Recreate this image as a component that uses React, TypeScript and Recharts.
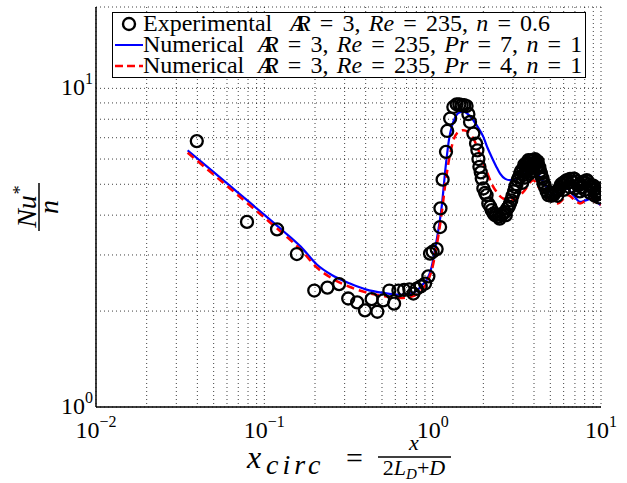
import React from "react";
import {
  ComposedChart,
  Line,
  Scatter,
  XAxis,
  YAxis,
  CartesianGrid,
  Legend,
} from "recharts";

const FONT = "Liberation Serif, Times New Roman, Times, serif";
const BLUE = "#0000ff";
const RED = "#ff0000";

// log grid lines (every unit of every decade)
const X_GRID = [
  0.01, 0.02, 0.03, 0.04, 0.05, 0.06, 0.07, 0.08, 0.09,
  0.1, 0.2, 0.3, 0.4, 0.5, 0.6, 0.7, 0.8, 0.9,
  1, 2, 3, 4, 5, 6, 7, 8, 9, 10,
];
const Y_GRID = [1, 2, 3, 4, 5, 6, 7, 8, 9, 10];

// decade labels: value -> exponent text
const X_LABELS: Record<string, string> = { "0.01": "\u22122", "0.1": "\u22121", "1": "0", "10": "1" };
const Y_LABELS: Record<string, string> = { "1": "0", "10": "1" };

// experimental Nu*/n, AR = 3, Re = 235, n = 0.6
const experimental: [number, number][] = [
  [0.0397, 6.83], [0.0789, 3.81], [0.119, 3.61], [0.156, 3.02], [0.198, 2.32],
  [0.237, 2.37], [0.278, 2.43], [0.315, 2.19], [0.356, 2.13], [0.396, 2.01],
  [0.434, 2.18], [0.469, 1.99], [0.509, 2.16], [0.553, 2.32], [0.59, 2.11],
  [0.626, 2.32], [0.676, 2.33], [0.727, 2.34], [0.768, 2.27], [0.804, 2.35],
  [0.849, 2.39], [0.901, 2.44], [0.943, 2.57], [0.965, 3.03], [1.0, 3.07],
  [1.056, 3.13], [1.107, 3.67], [1.112, 4.2], [1.146, 5.17], [1.2, 6.32],
  [1.22, 7.35], [1.27, 8.04], [1.327, 8.74], [1.388, 8.91], [1.44, 8.9],
  [1.487, 8.85], [1.54, 8.85], [1.59, 8.8], [1.63, 8.3], [1.667, 7.84],
  [1.745, 7.21], [1.81, 6.71], [1.844, 6.39], [1.87, 6.0], [1.895, 5.67],
  [1.93, 5.45], [1.957, 5.21], [2.0, 4.85], [2.05, 4.7], [2.09, 4.62],
  [2.14, 4.35], [2.2, 4.25], [2.24, 4.15], [2.3, 4.05], [2.35, 4.0],
  [2.4, 4.02], [2.455, 3.95], [2.5, 3.9], [2.57, 4.0], [2.62, 4.05],
  [2.69, 4.09], [2.72, 4.0], [2.78, 4.2], [2.83, 4.25], [2.88, 4.35],
  [2.93, 4.45], [2.98, 4.6], [3.05, 4.75], [3.09, 4.9], [3.15, 5.0],
  [3.2, 5.15], [3.25, 5.25], [3.31, 5.4], [3.35, 5.5], [3.4, 5.05],
  [3.45, 5.6], [3.48, 5.35], [3.5, 5.75], [3.55, 5.25], [3.58, 5.6],
  [3.62, 5.81], [3.65, 5.5], [3.68, 5.75], [3.7, 5.95], [3.75, 5.4],
  [3.78, 5.9], [3.82, 5.65], [3.85, 5.95], [3.9, 5.5], [3.92, 5.8],
  [3.96, 5.95], [4.0, 5.7], [4.05, 6.0], [4.1, 5.85], [4.15, 5.6],
  [4.2, 5.9], [4.24, 5.74], [4.3, 5.65], [4.35, 5.5], [4.4, 5.4],
  [4.45, 5.27], [4.5, 5.2], [4.55, 5.05], [4.6, 5.0], [4.65, 4.9],
  [4.75, 4.75], [4.87, 4.62], [5.05, 4.6], [5.1, 4.7], [5.21, 4.62],
  [5.3, 4.7], [5.45, 4.75], [5.5, 4.6], [5.6, 4.8], [5.71, 4.9],
  [5.8, 5.0], [5.98, 5.05], [6.0, 4.8], [6.1, 5.1], [6.26, 5.15],
  [6.35, 5.05], [6.5, 4.9], [6.55, 5.2], [6.7, 5.1], [6.86, 5.21],
  [6.95, 5.2], [7.0, 4.85], [7.2, 5.1], [7.3, 4.95], [7.5, 4.75],
  [7.51, 5.02], [7.7, 4.9], [7.85, 5.1], [7.95, 5.05], [8.0, 4.8],
  [8.23, 5.15], [8.35, 5.1], [8.5, 5.0], [8.6, 4.7], [8.7, 4.95],
  [8.81, 4.9], [9.0, 4.95], [9.1, 4.8], [9.2, 4.6], [9.3, 4.7],
  [9.44, 4.73], [9.55, 4.65], [9.7, 4.55], [9.8, 4.75], [9.9, 4.67],
  [9.9, 4.85],
];

// numerical, Pr = 7
const numericalPr7: [number, number][] = [
  [0.035, 6.39], [0.05, 5.46], [0.07, 4.7], [0.1, 4.01], [0.13, 3.56],
  [0.165, 3.18], [0.205, 2.8], [0.25, 2.6], [0.323, 2.44], [0.4, 2.34],
  [0.509, 2.28], [0.64, 2.25], [0.72, 2.26], [0.8, 2.31], [0.87, 2.42],
  [0.921, 2.5], [0.986, 2.75], [1.056, 3.34], [1.131, 4.25], [1.2, 5.8],
  [1.25, 6.9], [1.3, 7.6], [1.36, 8.1], [1.42, 8.37], [1.52, 8.45],
  [1.62, 8.3], [1.745, 7.94], [1.87, 7.5], [2.0, 7.04], [2.12, 6.5],
  [2.24, 6.09], [2.38, 5.7], [2.515, 5.4], [2.7, 5.2], [2.88, 5.15],
  [3.1, 5.18], [3.31, 5.27], [3.6, 5.45], [3.87, 5.6], [4.1, 5.45],
  [4.35, 5.27], [4.8, 4.85], [5.21, 4.62], [5.7, 4.7], [6.26, 4.85],
  [6.9, 4.6], [7.51, 4.4], [8.1, 4.45], [8.81, 4.51], [9.4, 4.4],
  [9.95, 4.3],
];

// numerical, Pr = 4
const numericalPr4: [number, number][] = [
  [0.035, 6.28], [0.05, 5.36], [0.07, 4.61], [0.1, 3.93], [0.13, 3.49],
  [0.165, 3.11], [0.205, 2.74], [0.25, 2.54], [0.323, 2.38], [0.4, 2.29],
  [0.509, 2.23], [0.64, 2.2], [0.72, 2.21], [0.8, 2.25], [0.849, 2.31],
  [0.92, 2.45], [0.986, 2.68], [1.056, 3.2], [1.131, 4.05], [1.2, 5.2],
  [1.26, 6.1], [1.32, 6.8], [1.42, 7.3], [1.52, 7.39], [1.62, 7.3],
  [1.745, 6.96], [1.87, 6.4], [2.0, 5.81], [2.12, 5.4], [2.24, 5.02],
  [2.42, 4.7], [2.62, 4.51], [3.0, 4.46], [3.46, 4.73], [3.96, 5.15],
  [4.25, 4.9], [4.55, 4.67], [5.0, 4.45], [5.5, 4.35], [6.4, 4.62],
  [7.0, 4.45], [7.51, 4.35], [8.56, 4.51], [9.2, 4.4], [9.95, 4.3],
];

const toPoints = (rows: [number, number][]) => rows.map(([x, y]) => ({ x, y }));

const XTick = (props: any) => {
  const { x, payload } = props;
  const exp = X_LABELS[String(payload.value)];
  if (exp === undefined) return null;
  return (
    <text x={x} y={438} textAnchor="middle" fontFamily={FONT} fontSize={24} fill="#000">
      10<tspan dy={-11} fontSize={16}>{exp}</tspan>
    </text>
  );
};

const YTick = (props: any) => {
  const { y, payload } = props;
  const exp = Y_LABELS[String(payload.value)];
  if (exp === undefined) return null;
  return (
    <text x={93} y={y + 7} textAnchor="end" fontFamily={FONT} fontSize={24} fill="#000">
      10<tspan dy={-11} fontSize={16}>{exp}</tspan>
    </text>
  );
};

const XTitle = () => (
  <g fontFamily={FONT} fill="#000">
    <text x={247} y={468} fontSize={32} fontStyle="italic">x</text>
    <text x={266} y={474} fontSize={28} fontStyle="italic" letterSpacing={4}>circ</text>
    <text x={346} y={468} fontSize={30}>=</text>
    <text x={414} y={450} fontSize={22} fontStyle="italic" textAnchor="middle">x</text>
    <line x1={378} x2={451} y1={457} y2={457} stroke="#000" strokeWidth={1.3} />
    <text x={414} y={475} fontSize={22} textAnchor="middle">
      2<tspan fontStyle="italic">L</tspan>
      <tspan dy={4} fontSize={15} fontStyle="italic">D</tspan>
      <tspan dy={-4}>+</tspan>
      <tspan fontStyle="italic">D</tspan>
    </text>
  </g>
);

const YTitle = () => (
  <g transform="translate(39, 207) rotate(-90)" fontFamily={FONT} fill="#000">
    <text x={0} y={-3} fontSize={28} fontStyle="italic" textAnchor="middle">
      Nu<tspan dy={-10} fontSize={18}>*</tspan>
    </text>
    <line x1={-24} x2={24} y1={0} y2={0} stroke="#000" strokeWidth={1.5} />
    <text x={0} y={19} fontSize={28} fontStyle="italic" textAnchor="middle">n</text>
  </g>
);

// aspect-ratio symbol: A and R drawn overlapping in one run
const AR = () => (
  <i style={{ letterSpacing: "-0.36em", marginRight: "0.36em" }}>AR</i>
);

// relation sign with TeX-like spacing
const Eq = () => <span style={{ margin: "0 0.38em" }}>=</span>;
const Sep = () => <span style={{ marginRight: "0.35em" }}>,</span>;

const legendRows = [
  { kind: "circle", name: "Experimental", nameWidth: 147, pr: null, n: "0.6" },
  { kind: "blue", name: "Numerical", nameWidth: 115, pr: "7", n: "1" },
  { kind: "red", name: "Numerical", nameWidth: 115, pr: "4", n: "1" },
];

const LegendBox = () => (
  <div
    style={{
      width: 474,
      height: 66,
      boxSizing: "border-box",
      border: "1.5px solid #000",
      background: "#fff",
      fontFamily: FONT,
      fontSize: 24,
      lineHeight: "21px",
      color: "#000",
    }}
  >
    {legendRows.map((r, i) => (
      <div key={i} style={{ display: "flex", alignItems: "center", height: 21, whiteSpace: "nowrap" }}>
        <svg width={30} height={20} style={{ flex: "none" }}>
          {r.kind === "circle" && (
            <circle cx={16} cy={10} r={6} fill="none" stroke="#000" strokeWidth={2.4} />
          )}
          {r.kind === "blue" && <line x1={2} x2={30} y1={10} y2={10} stroke={BLUE} strokeWidth={2} />}
          {r.kind === "red" && (
            <line x1={2} x2={30} y1={10} y2={10} stroke={RED} strokeWidth={2.5} strokeDasharray="8 4" />
          )}
        </svg>
        <span style={{ display: "inline-block", width: r.nameWidth, flex: "none" }}>{r.name}</span>
        <span>
          <AR />
          <Eq />3<Sep />
          <i>Re</i>
          <Eq />235<Sep />
          {r.pr && (
            <>
              <i>Pr</i>
              <Eq />
              {r.pr}
              <Sep />
            </>
          )}
          <i>n</i>
          <Eq />
          {r.n}
        </span>
      </div>
    ))}
  </div>
);

const Circle = (props: any) => (
  <circle cx={props.cx} cy={props.cy} r={6} fill="none" stroke="#000" strokeWidth={2.3} />
);

export default function App() {
  return (
    <div style={{ position: "absolute", left: 0, top: 0, width: 627, height: 483, background: "#fff" }}>
      <ComposedChart width={627} height={483} margin={{ top: 7, right: 26, bottom: 36, left: 36 }}>
        <CartesianGrid stroke="#000" strokeOpacity={0.75} strokeDasharray="1 3" />
        <XAxis
          dataKey="x"
          type="number"
          scale="log"
          domain={[0.01, 10]}
          ticks={X_GRID}
          allowDataOverflow
          height={40}
          tick={<XTick />}
          tickLine={false}
          axisLine={{ stroke: "#000", strokeWidth: 1.5 }}
          interval={0}
          label={<XTitle />}
        />
        <YAxis
          dataKey="y"
          type="number"
          scale="log"
          domain={[1, 18]}
          ticks={Y_GRID}
          allowDataOverflow
          width={60}
          tick={<YTick />}
          tickLine={false}
          axisLine={{ stroke: "#000", strokeWidth: 1.5 }}
          interval={0}
          label={<YTitle />}
        />
        <Scatter data={toPoints(experimental)} shape={<Circle />} isAnimationActive={false} />
        <Line
          data={toPoints(numericalPr7)}
          dataKey="y"
          type="monotone"
          stroke={BLUE}
          strokeWidth={2.2}
          dot={false}
          activeDot={false}
          isAnimationActive={false}
        />
        <Line
          data={toPoints(numericalPr4)}
          dataKey="y"
          type="monotone"
          stroke={RED}
          strokeWidth={2.5}
          strokeDasharray="8 5"
          dot={false}
          activeDot={false}
          isAnimationActive={false}
        />
        <Legend
          layout="vertical"
          align="center"
          verticalAlign="middle"
          wrapperStyle={{ position: "absolute", top: 12, left: 112, width: 474, height: 66 }}
          content={<LegendBox />}
        />
      </ComposedChart>
    </div>
  );
}
